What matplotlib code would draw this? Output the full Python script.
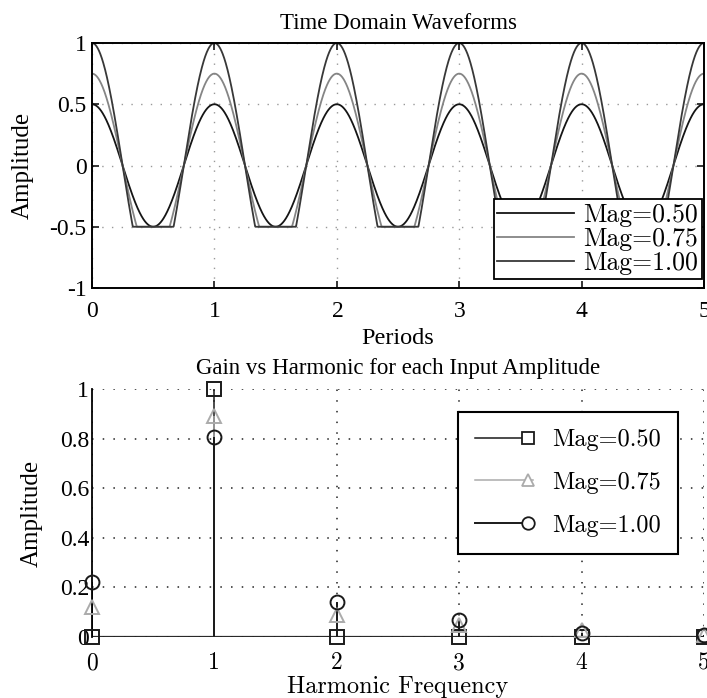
import numpy as np
import matplotlib
matplotlib.use("Agg")
import matplotlib.pyplot as plt
from matplotlib.lines import Line2D
from matplotlib.legend_handler import HandlerLine2D

# Data
mags = [0.50, 0.75, 1.00]
mag_labels = ["Mag=0.50", "Mag=0.75", "Mag=1.00"]
clip_level = -0.5
n_periods = 5

harmonics = [0, 1, 2, 3, 4, 5]
gain_050 = [0.0, 1.0, 0.0, 0.0, 0.0, 0.0]
gain_075 = [0.12, 0.89, 0.09, 0.05, 0.03, 0.01]
gain_100 = [0.22, 0.805, 0.14, 0.07, 0.015, 0.01]

plt.rcParams['font.family'] = ['Liberation Serif', 'DejaVu Serif']
plt.rcParams['xtick.direction'] = 'in'
plt.rcParams['ytick.direction'] = 'in'
plt.rcParams['axes.formatter.use_mathtext'] = True
cm_font = {'family': 'cmr10', 'size': 17.5}
cm_font_big = {'family': 'cmr10', 'size': 18.5}


# marker drawn at the right end of the legend line (matlab style)
class EndMarkerHandler(HandlerLine2D):
    def create_artists(self, legend, orig_handle, xdescent, ydescent, width, height, fontsize, trans):
        y = height / 2 - ydescent
        x0 = -xdescent
        x1 = -xdescent + width
        ln = Line2D([x0, x1], [y, y], color=orig_handle.get_color(), lw=orig_handle.get_linewidth())
        mk = Line2D([x1 - 4], [y], linestyle='none', marker=orig_handle.get_marker(),
                    markersize=orig_handle.get_markersize(), markerfacecolor='white',
                    markeredgecolor=orig_handle.get_markeredgecolor(),
                    markeredgewidth=orig_handle.get_markeredgewidth())
        ln.set_transform(trans)
        mk.set_transform(trans)
        return [ln, mk]


fig = plt.figure(figsize=(7.07, 6.98), dpi=100)
ax1 = fig.add_axes([92 / 707, 1 - 288 / 698, 612 / 707, 245 / 698])
ax2 = fig.add_axes([92 / 707, 1 - 637 / 698, 612 / 707, 248 / 698])

# Time domain
t = np.linspace(0, n_periods, 2001)
line_cols = ['#151515', '#858585', '#383838']
line_w = [1.3, 1.3, 1.3]
for m, lab, c, w in zip(mags, mag_labels, line_cols, line_w):
    y = np.maximum(m * np.cos(2 * np.pi * t), clip_level)
    ax1.plot(t, y, color=c, lw=w, label=lab)

ax1.set_xlim(0, 5)
ax1.set_ylim(-1, 1)
ax1.set_xticks([0, 1, 2, 3, 4, 5])
ax1.set_yticks([-1, -0.5, 0, 0.5, 1])
ax1.set_yticklabels(['-1', '-0.5', '0', '0.5', '1'])
ax1.grid(True, linestyle=(0, (1, 6)), color='#999999', lw=1.0)
ax1.tick_params(top=True, right=True, labelsize=17, length=5, width=1.1)
ax1.tick_params(axis='x', pad=9)
ax1.tick_params(axis='y', pad=4)
ax1.set_title('Time Domain Waveforms', fontsize=16.5, pad=10)
ax1.set_xlabel('Periods', fontsize=17.5)
ax1.xaxis.set_label_coords(0.5, -0.165)
ax1.set_ylabel('Amplitude', fontsize=18)
ax1.yaxis.set_label_coords(-0.095, 0.5)
for s in ax1.spines.values():
    s.set_linewidth(1.4)
leg1 = ax1.legend(loc='lower right', bbox_to_anchor=(0.997, 0.037), prop=cm_font_big,
                  handlelength=3.0, borderpad=0.15, labelspacing=0.02, handletextpad=0.35,
                  borderaxespad=0, fancybox=False, framealpha=1, edgecolor='black')
leg1.get_frame().set_linewidth(1.3)

# Harmonic gains
series = [
    (gain_050, '#1a1a1a', 's', 1.1),
    (gain_075, '#ababab', '^', 1.1),
    (gain_100, '#1a1a1a', 'o', 1.4),
]
ax2.axhline(0, color='#2a2a2a', lw=1.6, zorder=1)
handles = []
for vals, c, mk, w in series:
    ml, sl, bl = ax2.stem(harmonics, vals, basefmt=' ')
    plt.setp(sl, color=c, lw=w, zorder=2)
    plt.setp(ml, marker=mk, markersize=10, markerfacecolor='none',
             markeredgecolor=c, markeredgewidth=1.4, color=c, clip_on=False, zorder=3)
    handles.append(Line2D([0], [0], color=c, lw=w, marker=mk, markersize=9,
                          markeredgecolor=c, markeredgewidth=1.3))

ax2.set_xlim(0, 5)
ax2.set_ylim(0, 1)
ax2.set_xticks([0, 1, 2, 3, 4, 5])
ax2.set_yticks([0, 0.2, 0.4, 0.6, 0.8, 1])
ax2.set_yticklabels(['0', '0.2', '0.4', '0.6', '0.8', '1'])
ax2.set_xticklabels([str(h) for h in harmonics], fontdict=cm_font)
ax2.grid(True, linestyle=(0, (1, 6)), color='#222222', lw=1.1)
ax2.tick_params(labelsize=17, length=0)
ax2.tick_params(axis='x', pad=11)
ax2.tick_params(axis='y', pad=2)
ax2.set_title('Gain vs Harmonic for each Input Amplitude', fontsize=16.5, pad=11)
ax2.set_xlabel('Harmonic Frequency', fontdict=cm_font)
ax2.xaxis.set_label_coords(0.5, -0.155)
ax2.set_ylabel('Amplitude', fontsize=18)
ax2.yaxis.set_label_coords(-0.080, 0.5)
for k in ['top', 'right']:
    ax2.spines[k].set_visible(False)
ax2.spines['left'].set_linewidth(1.3)
ax2.spines['bottom'].set_visible(False)
leg2 = ax2.legend(handles, mag_labels, loc='upper right', bbox_to_anchor=(0.958, 0.907),
                  prop=cm_font, handlelength=2.4, borderpad=0.7, labelspacing=0.85,
                  handletextpad=0.8, borderaxespad=0, fancybox=False, framealpha=1,
                  edgecolor='black', handler_map={Line2D: EndMarkerHandler()})
leg2.get_frame().set_linewidth(1.5)

fig.savefig('out.png', dpi=100)
